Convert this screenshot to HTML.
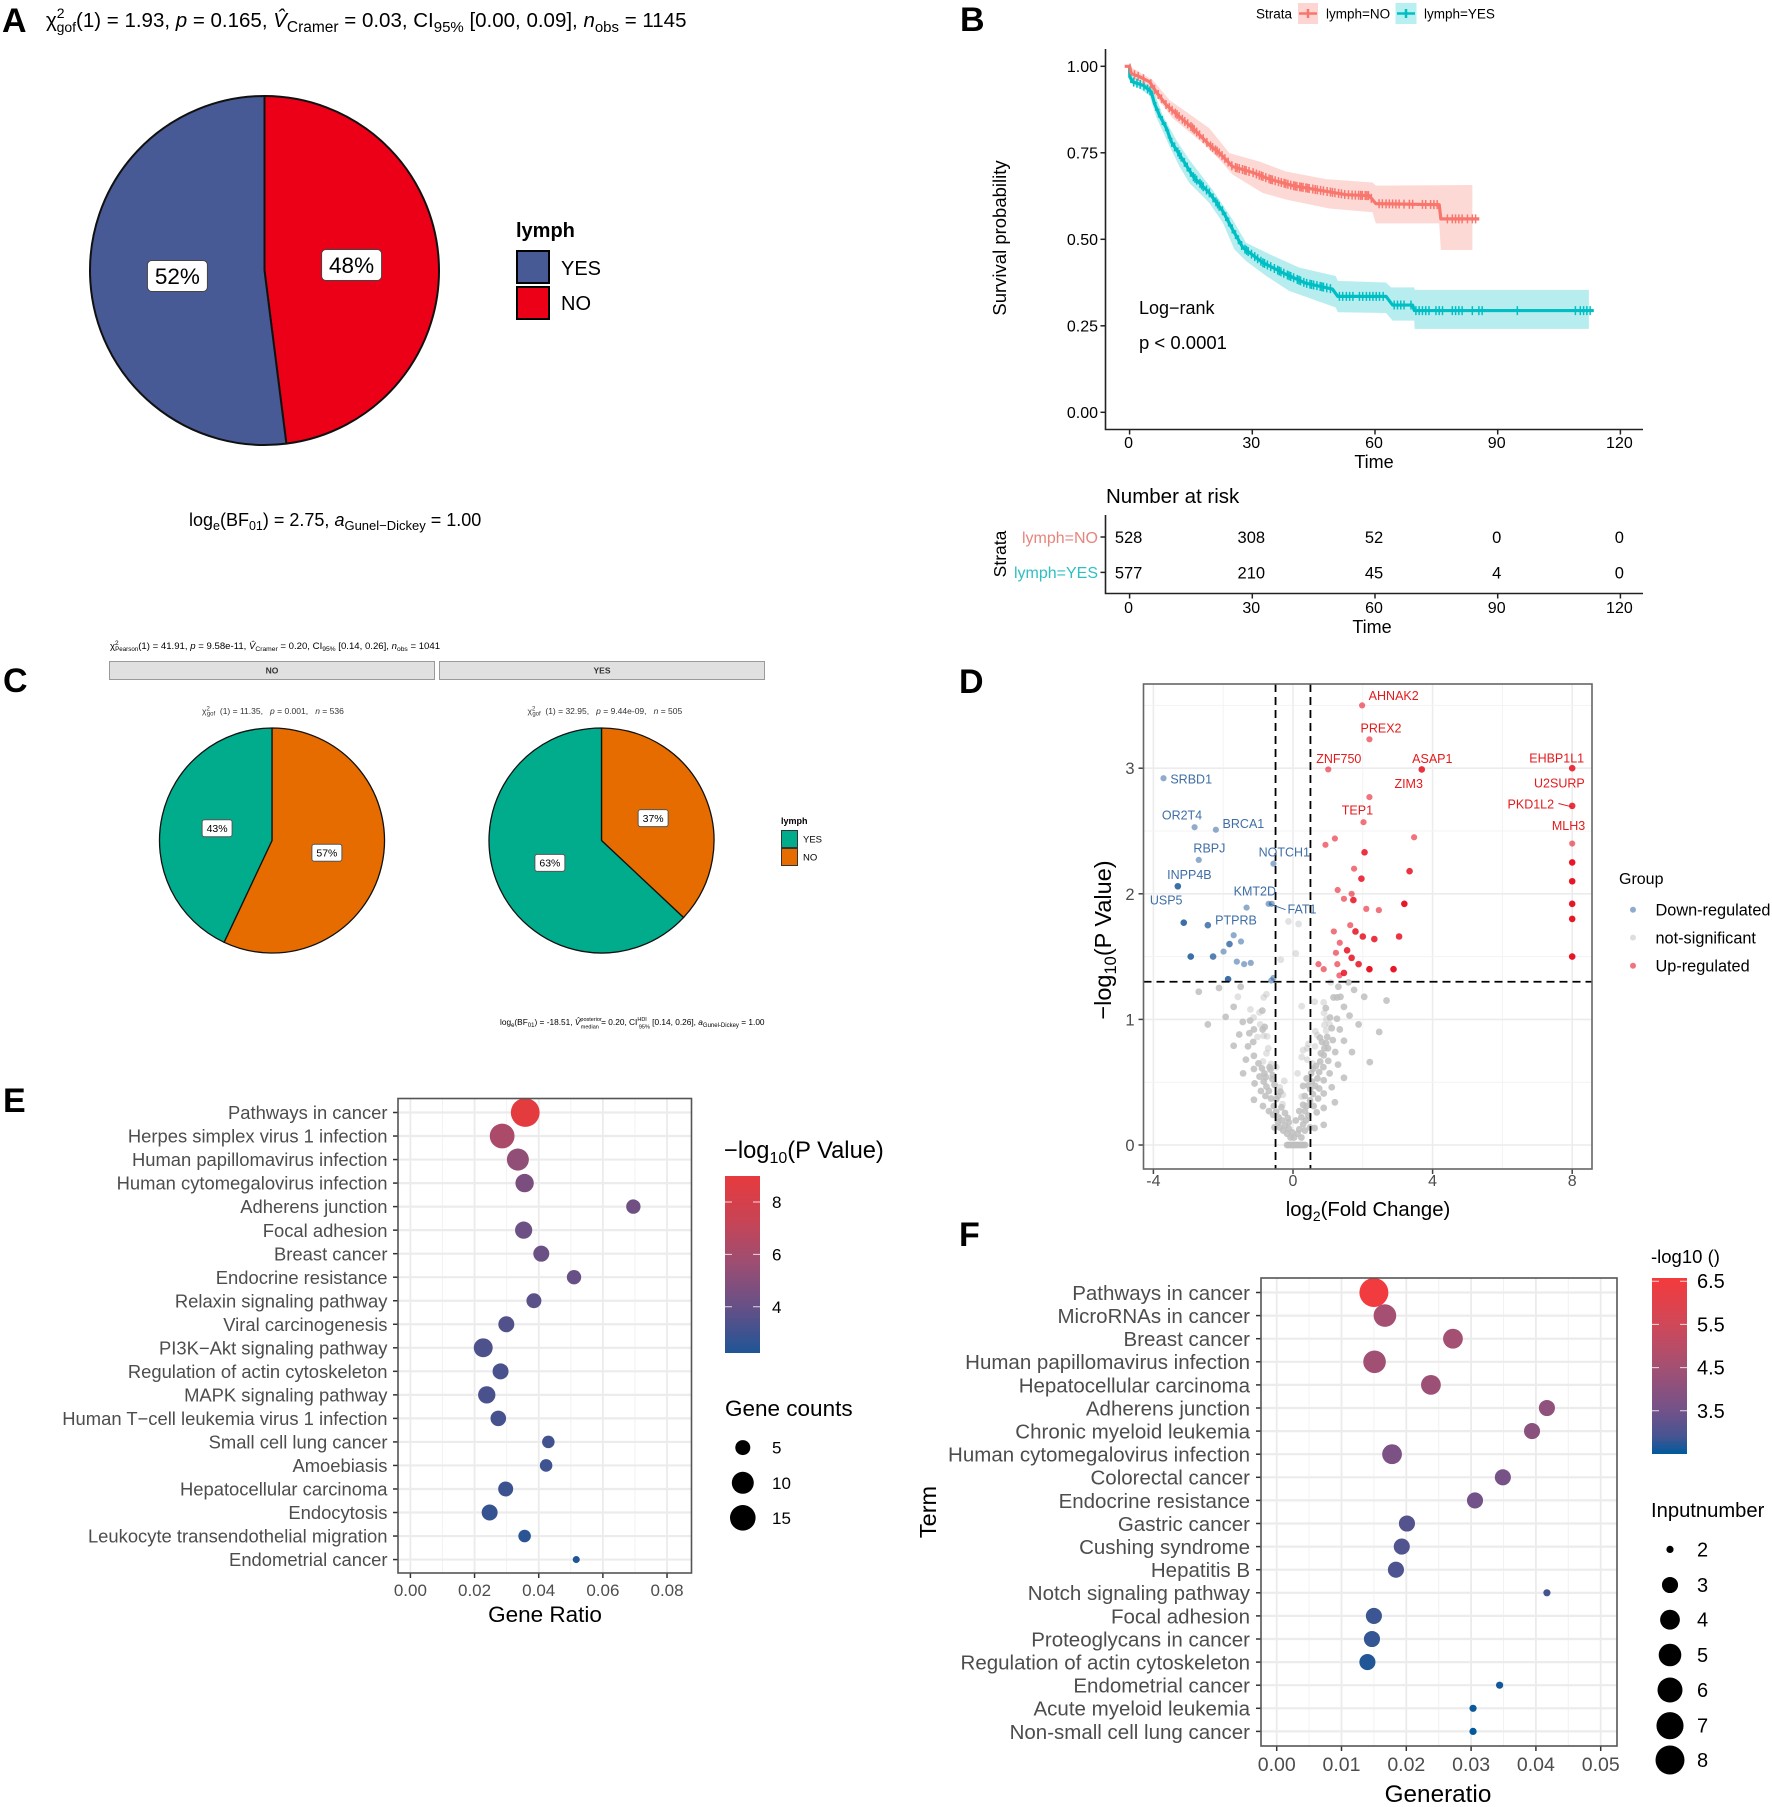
<!DOCTYPE html>
<html lang="en"><head><meta charset="utf-8"><title>Multi-panel lymph figure</title>
<style>
html,body{margin:0;padding:0;background:#fff}
svg{display:block;font-family:"Liberation Sans",sans-serif}
text{fill:#000}
.g3 text,text.g3{fill:#4d4d4d}
</style></head>
<body>
<svg id="fig" xmlns="http://www.w3.org/2000/svg" width="1772" height="1807" viewBox="0 0 1772 1807">
<defs>
<linearGradient id="gradE" x1="0" y1="1" x2="0" y2="0"><stop offset="0" stop-color="rgb(31,85,150)"/><stop offset=".25" stop-color="rgb(100,80,135)"/><stop offset=".5" stop-color="rgb(155,78,115)"/><stop offset=".75" stop-color="rgb(200,68,85)"/><stop offset="1" stop-color="rgb(230,58,62)"/></linearGradient>
<linearGradient id="gradF" x1="0" y1="1" x2="0" y2="0"><stop offset="0" stop-color="rgb(0,90,156)"/><stop offset=".1" stop-color="rgb(70,84,145)"/><stop offset=".25" stop-color="rgb(115,82,137)"/><stop offset=".49" stop-color="rgb(163,80,115)"/><stop offset=".74" stop-color="rgb(208,72,88)"/><stop offset="1" stop-color="rgb(244,58,60)"/></linearGradient>
</defs>
<rect width="1772" height="1807" fill="#fff"/>

<g font-weight="bold" font-size="34">
<text x="2" y="32">A</text>
<text x="960" y="31">B</text>
<text x="3" y="692">C</text>
<text x="959" y="693">D</text>
<text x="3" y="1112">E</text>
<text x="959" y="1246">F</text>
</g>

<!-- Panel A -->
<g id="panelA">
<text x="46" y="27" font-size="20.500" style="white-space:pre">χ<tspan dy="-9" font-size="14">2</tspan><tspan dy="14" dx="-8" font-size="14">gof</tspan><tspan dy="-5">(1) = 1.93, </tspan><tspan font-style="italic">p</tspan> = 0.165, <tspan font-style="italic">V̂</tspan><tspan dy="5" font-size="15.500">Cramer</tspan><tspan dy="-5"> = 0.03, CI</tspan><tspan dy="5" font-size="15">95%</tspan><tspan dy="-5"> [0.00, 0.09], </tspan><tspan font-style="italic">n</tspan><tspan dy="5" font-size="15">obs</tspan><tspan dy="-5"> = 1145</tspan></text>
<text x="189" y="526" font-size="18" style="white-space:pre">log<tspan dy="4" font-size="12.500">e</tspan><tspan dy="-4">(BF</tspan><tspan dy="4" font-size="12.500">01</tspan><tspan dy="-4">) = 2.75, </tspan><tspan font-style="italic">a</tspan><tspan dy="4" font-size="13">Gunel−Dickey</tspan><tspan dy="-4"> = 1.00</tspan></text>
<text x="516" y="237" font-size="20" font-weight="bold">lymph</text>
<rect x="517" y="251" width="32" height="32" fill="#485a95" stroke="#000" stroke-width="2"/>
<rect x="517" y="287" width="32" height="32" fill="#ec0018" stroke="#000" stroke-width="2"/>
<text x="561" y="275" font-size="20">YES</text>
<text x="561" y="310" font-size="20">NO</text>
</g>

<!-- Panel B -->
<g id="panelB">
<text x="1256" y="18.500" font-size="13.500">Strata</text>
<rect x="1298" y="3" width="20" height="21" fill="#fdd6d3"/>
<path d="M1299 13.500H1317M1308 9V18" stroke="#F8766D" stroke-width="2.500" fill="none"/>
<text x="1326" y="18.500" font-size="13.500">lymph=NO</text>
<rect x="1395.500" y="3" width="21" height="21" fill="#b8eff0"/>
<path d="M1397 13.500H1415M1406 9V18" stroke="#00BFC4" stroke-width="2.500" fill="none"/>
<text x="1424" y="18.500" font-size="13.500">lymph=YES</text>
<text transform="translate(1006,238) rotate(-90)" text-anchor="middle" font-size="18.500">Survival probability</text>
<text x="1374" y="468" text-anchor="middle" font-size="18">Time</text>
<text x="1139" y="314" font-size="18">Log−rank</text>
<text x="1139" y="349" font-size="18.500">p &lt; 0.0001</text>
<text x="1106" y="503" font-size="20.500">Number at risk</text>
<text transform="translate(1006,554) rotate(-90)" text-anchor="middle" font-size="17.500">Strata</text>
<text x="1098" y="543" text-anchor="end" font-size="16" style="fill:#e6857c">lymph=NO</text>
<text x="1098" y="578" text-anchor="end" font-size="16" style="fill:#2fbfc3">lymph=YES</text>
<text x="1372" y="633" text-anchor="middle" font-size="18">Time</text>
</g>

<!-- Panel C -->
<g id="panelC">
<text x="110" y="649" font-size="9.600" style="white-space:pre">χ<tspan dy="-4" font-size="6.500">2</tspan><tspan dy="6" dx="-3.500" font-size="6.200">Pearson</tspan><tspan dy="-2">(1) = 41.91, </tspan><tspan font-style="italic">p</tspan> = 9.58e-11, <tspan font-style="italic">V̂</tspan><tspan dy="2" font-size="6.700">Cramer</tspan><tspan dy="-2"> = 0.20, CI</tspan><tspan dy="2" font-size="6.700">95%</tspan><tspan dy="-2"> [0.14, 0.26], </tspan><tspan font-style="italic">n</tspan><tspan dy="2" font-size="6.700">obs</tspan><tspan dy="-2"> = 1041</tspan></text>
<rect x="109.500" y="661.500" width="325" height="18" fill="#e0e0e0" stroke="#9a9a9a" stroke-width="1"/>
<rect x="439.500" y="661.500" width="325" height="18" fill="#e0e0e0" stroke="#9a9a9a" stroke-width="1"/>
<text x="272" y="673.500" text-anchor="middle" font-size="8.500" font-weight="bold" style="fill:#333">NO</text>
<text x="602" y="673.500" text-anchor="middle" font-size="8.500" font-weight="bold" style="fill:#333">YES</text>
<text x="202" y="714" font-size="8.500" style="fill:#333;white-space:pre">χ<tspan dy="-3.500" font-size="6">2</tspan><tspan dy="5" dx="-3" font-size="6">gof</tspan><tspan dy="-1.500">  (1) = 11.35,   </tspan><tspan font-style="italic">p</tspan> = 0.001,   <tspan font-style="italic">n</tspan> = 536</text>
<text x="527.500" y="714" font-size="8.500" style="fill:#333;white-space:pre">χ<tspan dy="-3.500" font-size="6">2</tspan><tspan dy="5" dx="-3" font-size="6">gof</tspan><tspan dy="-1.500">  (1) = 32.95,   </tspan><tspan font-style="italic">p</tspan> = 9.44e-09,   <tspan font-style="italic">n</tspan> = 505</text>
<text x="500" y="1025" font-size="8.300" style="white-space:pre">log<tspan dy="2" font-size="6">e</tspan><tspan dy="-2">(BF</tspan><tspan dy="2" font-size="6">01</tspan><tspan dy="-2">) = -18.51, </tspan><tspan font-style="italic">V̂</tspan><tspan dy="-4" font-size="5.500">posterior</tspan><tspan dy="7.500" dx="-21" font-size="5.500">median</tspan><tspan dy="-3.500"> = 0.20, CI</tspan><tspan dy="-4" font-size="5.500">HDI</tspan><tspan dy="7.500" dx="-8" font-size="5.500">95%</tspan><tspan dy="-3.500"> [0.14, 0.26], </tspan><tspan font-style="italic">a</tspan><tspan dy="2" font-size="6">Gunel-Dickey</tspan><tspan dy="-2"> = 1.00</tspan></text>
<text x="781" y="824" font-size="9" font-weight="bold">lymph</text>
<rect x="781.500" y="830.500" width="16" height="17" fill="#00ac8c" stroke="#333" stroke-width="1"/>
<rect x="781.500" y="848.500" width="16" height="17" fill="#e66c00" stroke="#333" stroke-width="1"/>
<text x="803" y="842.500" font-size="9.500">YES</text>
<text x="803" y="860.500" font-size="9.500">NO</text>
</g>

<!-- Panel D -->
<g id="panelD">
<g id="panelDGrid"></g>
<g id="panelDPoints"></g>
<g id="panelDLines"></g>
<g font-size="12.500" text-anchor="middle">
<text x="1393.700" y="700" style="fill:#e41a1c">AHNAK2</text>
<text x="1381" y="732.500" style="fill:#e41a1c">PREX2</text>
<text x="1338.800" y="763" style="fill:#e41a1c">ZNF750</text>
<text x="1432.300" y="763" style="fill:#e41a1c">ASAP1</text>
<text x="1556.700" y="762.500" style="fill:#e41a1c">EHBP1L1</text>
<text x="1559.400" y="787.500" style="fill:#e41a1c">U2SURP</text>
<text x="1408.700" y="788" style="fill:#e41a1c">ZIM3</text>
<text x="1530.800" y="808.500" style="fill:#e41a1c">PKD1L2</text>
<text x="1357.400" y="814.500" style="fill:#e41a1c">TEP1</text>
<text x="1568.500" y="830" style="fill:#e41a1c">MLH3</text>
</g>
<g font-size="12.500" text-anchor="middle">
<text x="1191.200" y="783.500" style="fill:#3f6ea6">SRBD1</text>
<text x="1182" y="819.500" style="fill:#3f6ea6">OR2T4</text>
<text x="1243.400" y="827.800" style="fill:#3f6ea6">BRCA1</text>
<text x="1209.400" y="852.700" style="fill:#3f6ea6">RBPJ</text>
<text x="1284.300" y="856.400" style="fill:#3f6ea6">NOTCH1</text>
<text x="1189.400" y="879" style="fill:#3f6ea6">INPP4B</text>
<text x="1254.800" y="895.400" style="fill:#3f6ea6">KMT2D</text>
<text x="1166.200" y="904.400" style="fill:#3f6ea6">USP5</text>
<text x="1302" y="913.400" style="fill:#3f6ea6">FAT1</text>
<text x="1236" y="924.700" style="fill:#3f6ea6">PTPRB</text>
</g>
<path d="M1558.500 803.500L1571.700 806.800" stroke="#e41a1c" stroke-width="1" fill="none"/>
<path d="M1268.800 903.700L1285.600 909.700" stroke="#3f6ea6" stroke-width="1" fill="none"/>
<text x="1368" y="1216" text-anchor="middle" font-size="20.300">log<tspan dy="5" font-size="14">2</tspan><tspan dy="-5">(Fold Change)</tspan></text>
<text transform="translate(1111,940) rotate(-90)" text-anchor="middle" font-size="23.500">−log<tspan dy="5" font-size="16.500">10</tspan><tspan dy="-5">(P Value)</tspan></text>
<text x="1619" y="884" font-size="16">Group</text>
<circle cx="1633" cy="909.700" r="3" fill="#1f5a99" fill-opacity=".5"/>
<circle cx="1633" cy="937.600" r="3" fill="#bebebe" fill-opacity=".5"/>
<circle cx="1633" cy="965.800" r="3" fill="#e60012" fill-opacity=".55"/>
<text x="1655.500" y="915.500" font-size="16.300">Down-regulated</text>
<text x="1655.500" y="943.500" font-size="16.300">not-significant</text>
<text x="1655.500" y="971.500" font-size="16.300">Up-regulated</text>
</g>

<!-- Panel E -->
<g id="panelE">
<text x="545" y="1622" text-anchor="middle" font-size="22.500">Gene Ratio</text>
<text x="724" y="1158" font-size="23.700">−log<tspan dy="5" font-size="16">10</tspan><tspan dy="-5">(P Value)</tspan></text>
<rect x="725" y="1176" width="35" height="177" fill="url(#gradE)"/>
<text x="725" y="1416" font-size="22.500">Gene counts</text>
</g>

<!-- Panel F -->
<g id="panelF">
<text x="1438" y="1802" text-anchor="middle" font-size="24.300">Generatio</text>
<text transform="translate(936,1512) rotate(-90)" text-anchor="middle" font-size="23.500">Term</text>
<text x="1651" y="1263" font-size="18.500">-log10 ()</text>
<rect x="1652" y="1278" width="35" height="176" fill="url(#gradF)"/>
<text x="1651" y="1517" font-size="20.200">Inputnumber</text>
</g>
</svg>

<script>
/* ---------- Panel A / C pie data ---------- */
const pieACategories = ['NO','YES'];
const pieAValues = [48,52];
const pieCNoCategories = ['NO','YES'];
const pieCNoValues = [57,43];
const pieCYesCategories = ['NO','YES'];
const pieCYesValues = [37,63];

/* ---------- Panel B survival data (time, probability) ---------- */
const survivalXTicks = [0,30,60,90,120];
const survivalYTicks = [0,0.25,0.5,0.75,1];
const survivalNo = [[-1.2,1],[0,1],[0.4,.979],[2.4,.97],[4.9,.955],[6.5,.926],[9,.888],[12.2,.854],[15.5,.821],[19.5,.773],[22,.749],[25.2,.71],[30.1,.693],[34.2,.674],[39.9,.655],[46.4,.642],[52.9,.629],[58.6,.626],[60.2,.603],[75.7,.6],[76.1,.559],[85.5,.559]];
const survivalNoUpper = [[0,1],[5.7,.96],[9.8,.902],[13.8,.869],[19.5,.821],[24.4,.749],[31.7,.725],[38.2,.696],[48,.674],[59.4,.664],[60.2,.655],[83.8,.657]];
const survivalNoLower = [[0,.99],[6.5,.912],[10.6,.849],[17.9,.778],[22,.73],[25.2,.687],[32.5,.634],[38.2,.615],[48.8,.589],[59.4,.578],[60.2,.546],[75.7,.546],[76.1,.469],[83.8,.469]];
const survivalYes = [[0,1],[0.05,.969],[0.8,.955],[3.3,.945],[5.3,.926],[6.1,.892],[7.3,.859],[9,.821],[10.2,.782],[13,.73],[15.5,.682],[19.5,.634],[22.8,.581],[25.2,.528],[27.7,.476],[32.5,.433],[38.2,.399],[43.1,.373],[49.6,.356],[50.9,.335],[62.7,.335],[64.3,.31],[69.2,.31],[69.6,.294],[113.5,.294]];
const survivalYesUpper = [[0,.98],[5.7,.936],[8.1,.859],[11.4,.787],[14.6,.73],[20.3,.643],[25.2,.557],[28.5,.49],[34.2,.457],[41.5,.418],[50.4,.394],[50.9,.38],[62.7,.375],[63.9,.361],[69.6,.361],[69.7,.354],[112.3,.354]];
const survivalYesLower = [[0,.955],[4.9,.916],[6.5,.854],[9.8,.768],[12.2,.71],[14.6,.663],[19.5,.605],[22.8,.548],[25.6,.471],[28.5,.437],[33.4,.394],[39,.351],[45.6,.323],[50.4,.303],[50.9,.289],[62.7,.287],[64.3,.265],[69.6,.265],[69.7,.241],[112.3,.241]];
const censorNo = [0.1,1.2,2.1,3.4,5.2,6.1,7,7.8,8.9,9.7,10.4,11.2,11.6,12.1,12.9,13.5,14.2,15,15.4,15.8,16.4,17.1,18,18.9,19.8,20.3,21,21.4,21.9,22.6,23.3,24.1,25,25.9,26.3,26.8,27.6,28.1,28.5,29.2,30.2,31,31.7,32.2,32.6,33.3,34.1,34.5,34.9,35.6,36.4,37.1,37.8,38.2,38.7,39.4,40.1,40.5,40.9,41.6,42,42.4,43.1,43.5,43.9,44.8,45.4,45.9,46.7,47.4,48.3,49.1,49.6,50.2,51.1,51.8,52.6,53.5,54.4,55.2,56,56.5,56.9,57.6,58,58.4,59.1,61,61.8,62.7,63.5,64.3,65.1,65.9,67.1,68.4,69.2,71.6,72.4,73.6,74.4,75.2,77.7,78.9,79.7,80.5,81.3,82.6,83.8,84.6];
const censorYes = [0.3,1,1.8,2.6,3.5,4.4,5,6.4,7.1,8,8.8,9.5,10.3,11,11.8,12.2,12.6,13.4,14.1,14.9,15.6,16,16.4,17.2,17.6,18,18.8,19.5,20.4,21.1,21.5,21.9,22.7,23.5,24.2,25.1,25.9,26.6,27.4,28.2,28.6,29,29.8,30.6,31.3,32.1,32.6,33,33.7,34.5,35.4,36.2,36.6,37,37.7,38.6,39,39.4,40.1,41,41.4,41.8,42.6,43.3,44.1,44.5,45,45.8,46.6,47,47.4,48.2,49.1,51.3,52.1,53,53.8,54.6,56.2,57,57.9,58.7,59.5,60.3,61.1,62,64.7,65.5,66.3,67.1,68.8,70,70.8,71.6,72.4,73.2,74.9,75.7,76.5,78.9,79.7,80.5,81.3,83.8,85.4,86.2,94.8,109,110.2,111,111.8,112.6];
const riskTimes = [0,30,60,90,120];
const riskNo = [528,308,52,0,0];
const riskYes = [577,210,45,4,0];

/* ---------- Panel D volcano data ([log2FC, -log10P, overlapping genes]) ---------- */
const volcanoXTicks = [-4,0,4,8];
const volcanoYTicks = [0,1,2,3];
const volcanoUp = [[1.98,3.5,1],[2.19,3.23,1],[1.01,2.99,1],[3.69,2.99,2],[8,3,2],[8,2.7,2],[2.19,2.77,1],[2.02,2.57,1],[1.2,2.44,1],[.93,2.39,1],[3.47,2.45,1],[8,2.4,1],[2.05,2.33,2],[8,2.25,3],[1.75,2.2,1],[3.34,2.18,2],[1.96,2.12,2],[8,2.1,3],[1.28,2.03,1],[1.68,2,1],[1.46,1.96,1],[1.73,1.95,2],[3.19,1.92,3],[8,1.92,3],[2.1,1.88,1],[2.46,1.87,1],[8,1.8,3],[1.64,1.75,1],[1.17,1.7,1],[1.79,1.7,2],[2,1.66,2],[2.33,1.64,2],[3.04,1.66,2],[1.34,1.61,1],[1.55,1.55,2],[1.23,1.53,1],[1.68,1.49,2],[8,1.5,3],[.73,1.44,1],[.88,1.4,1],[1.27,1.44,1],[1.88,1.44,2],[2.19,1.4,3],[2.88,1.4,3],[1.46,1.37,2],[1.33,1.35,1]];
const volcanoDown = [[-3.71,2.92,1],[-2.82,2.53,1],[-2.21,2.51,1],[-2.7,2.27,1],[-.56,2.24,1],[-3.3,2.06,3],[-.7,1.92,1],[-.61,1.92,1],[-1.33,1.89,1],[-3.13,1.77,3],[-2.44,1.75,2],[-1.7,1.67,1],[-1.49,1.62,1],[-1.82,1.6,2],[-1.99,1.54,1],[-2.93,1.5,3],[-2.29,1.5,2],[-1.61,1.46,1],[-1.4,1.44,1],[-1.21,1.45,1],[-1.86,1.32,3],[-.56,1.33,1],[-.62,1.31,1]];
const volcanoNsSingle = [[-.13,1.78],[.16,1.76],[-.35,1.475],[.08,1.525],[-1.58,1.18],[-1.22,1.08],[-.84,1.175],[-.76,1.2],[-.96,1.055],[-1.13,1.015],[-.94,.96],[-.84,.87],[-.74,.865],[-1.02,.86],[-.71,.77],[-.76,.73],[-.86,.665],[-.63,.645],[-.48,.62],[-.25,.51],[-.38,.46],[-.29,.4],[-.3,.325],[.13,.57],[.25,1.105],[.62,1.14],[.88,1.135],[.89,1.05],[.95,1],[1.08,1.295],[1.05,.96],[.9,.955],[.95,.91],[.64,.905],[.7,.875],[.44,.805],[.63,.785],[.29,.755],[.41,.77],[.25,.7],[.41,.68],[.55,.65],[.25,.385]];
const volcanoNsRepeat = [[-2.7,1.22],[-2.12,1.25],[-1.5,1.26],[-1.7,1.1],[-.88,1.07],[-1.93,1.02],[-2.44,.96],[-1.44,.98],[-1.23,.99],[-1.12,.92],[-1.25,.89],[-1.54,.88],[-.87,.92],[-.81,.94],[-1.14,.82],[-1.7,.79],[-1.29,.785],[-1.12,.71],[-1.35,.68],[-.99,.65],[-.67,.62],[-1.12,.605],[-.89,.61],[-.645,.6],[-1.43,.57],[-.82,.57],[-.58,.555],[-.96,.545],[-.78,.54],[-.59,.525],[-.84,.505],[-1.1,.49],[-.76,.465],[-.53,.48],[-.69,.43],[-.92,.43],[-.36,.425],[-.79,.39],[-.43,.39],[-.63,.37],[-1.12,.36],[-.48,.365],[-.86,.31],[-.55,.31],[-.33,.3],[-.69,.27],[-.48,.265],[-.23,.255],[-.57,.24],[-.41,.22],[-.15,.215],[-.31,.195],[-.43,.18],[-.12,.18],[-.53,.14],[-.38,.14],[-.23,.155],[-.28,.115],[-.12,.13],[-.17,.09],[-.02,.1],[-.07,.06],[.94,1.09],[1.06,1.015],[1.26,1.005],[1.16,1.175],[1.26,1.175],[1.36,1.18],[1.3,1.26],[1.59,1.295],[1.75,1.235],[2.04,1.18],[2.68,1.15],[1.46,1.1],[1.62,1.03],[1.88,.96],[2.47,.9],[1.34,.92],[1.11,.93],[.98,.86],[.77,.855],[1.14,.835],[1.46,.83],[.95,.81],[.83,.82],[.9,.77],[1,.77],[.8,.73],[.88,.715],[1.21,.74],[1.69,.74],[.78,.665],[1.01,.67],[2.2,.66],[1.29,.64],[.66,.63],[.87,.62],[.57,.605],[.75,.58],[1.05,.57],[.52,.57],[1.46,.535],[.39,.53],[.7,.53],[.88,.515],[.54,.505],[.29,.47],[.64,.47],[.44,.475],[1.11,.46],[.49,.445],[.75,.45],[.88,.41],[.34,.39],[.57,.405],[.72,.37],[.49,.355],[1.2,.34],[.88,.295],[.29,.32],[.39,.31],[.59,.31],[.18,.27],[.34,.27],[.68,.26],[.44,.235],[.24,.22],[.37,.195],[.08,.195],[.88,.16],[.29,.165],[.49,.14],[.62,.135],[.18,.125],[.34,.115],[.13,.09],[.24,.06],[.03,.06],[-.17,0],[-.13,0],[-.09,0],[-.05,0],[-.01,0],[.03,0],[.07,0],[.11,0],[.15,0],[.19,0],[.23,0],[.27,0],[.31,0],[.35,0]];

/* ---------- Panel E dot-plot data ---------- */
const termsE = ['Pathways in cancer','Herpes simplex virus 1 infection','Human papillomavirus infection','Human cytomegalovirus infection','Adherens junction','Focal adhesion','Breast cancer','Endocrine resistance','Relaxin signaling pathway','Viral carcinogenesis','PI3K−Akt signaling pathway','Regulation of actin cytoskeleton','MAPK signaling pathway','Human T−cell leukemia virus 1 infection','Small cell lung cancer','Amoebiasis','Hepatocellular carcinoma','Endocytosis','Leukocyte transendothelial migration','Endometrial cancer'];
const ratioE = [.0358,.0286,.0335,.0356,.0695,.0353,.0408,.051,.0385,.0299,.0227,.0281,.0238,.0274,.043,.0423,.0297,.0247,.0356,.0517];
const countE = [18.5,13.7,10.8,7.5,4.6,6.6,5.7,4.6,5,5.7,8,5.7,6.7,5.4,3.5,3.5,5,5.7,3.5,1.1];
const logpE = [8.9,6.2,5.3,4.6,4.3,4.2,4.1,4,3.7,3.5,3.4,3.3,3.3,3.2,3.1,3,2.95,2.8,2.5,2.3];
const xTicksE = [0,.02,.04,.06,.08];
const xMinorE = [.01,.03,.05,.07];
const colorTicksE = [8,6,4];
const sizeTicksE = [5,10,15];

/* ---------- Panel F dot-plot data ---------- */
const termsF = ['Pathways in cancer','MicroRNAs in cancer','Breast cancer','Human papillomavirus infection','Hepatocellular carcinoma','Adherens junction','Chronic myeloid leukemia','Human cytomegalovirus infection','Colorectal cancer','Endocrine resistance','Gastric cancer','Cushing syndrome','Hepatitis B','Notch signaling pathway','Focal adhesion','Proteoglycans in cancer','Regulation of actin cytoskeleton','Endometrial cancer','Acute myeloid leukemia','Non-small cell lung cancer'];
const ratioF = [.015,.0167,.0272,.0151,.0238,.0417,.0394,.0178,.0349,.0306,.0201,.0193,.0184,.0417,.015,.0147,.014,.0344,.0303,.0303];
const inputF = [8,5,4,5,4,3,3,4,3,3,3,3,3,2,3,3,3,2,2,2];
const logpF = [6.5,4.55,4.5,4.45,4.35,4.1,4,3.7,3.6,3.5,3.1,3.05,3,2.9,2.85,2.8,2.7,2.6,2.55,2.5];
const xTicksF = [0,.01,.02,.03,.04,.05];
const xMinorF = [.005,.015,.025,.035,.045];
const colorTicksF = [6.5,5.5,4.5,3.5];
const sizeTicksF = [2,3,4,5,6,7,8];

/* ---------- helpers ---------- */
const NS = 'http://www.w3.org/2000/svg';
function mk(tag, parent, attrs, txt) {
  const el = document.createElementNS(NS, tag);
  for (const k in attrs) el.setAttribute(k, attrs[k]);
  if (txt !== undefined) el.textContent = txt;
  parent.appendChild(el);
  return el;
}
function slug(s) { return String(s).toLowerCase().replace(/[^a-z0-9]+/g, '-').replace(/^-|-$/g, ''); }
function ramp(stops, t) {
  t = Math.max(0, Math.min(1, t));
  for (let i = 0; i < stops.length - 1; i++) {
    const a = stops[i], b = stops[i + 1];
    if (t <= b[0]) {
      const u = (t - a[0]) / (b[0] - a[0]);
      return 'rgb(' + [1, 2, 3].map(k => Math.round(a[k] + (b[k] - a[k]) * u)).join(',') + ')';
    }
  }
  const z = stops[stops.length - 1];
  return 'rgb(' + z[1] + ',' + z[2] + ',' + z[3] + ')';
}
const rampStopsE = [[0,31,85,150],[.25,100,80,135],[.5,155,78,115],[.75,200,68,85],[1,230,58,62]];
const rampStopsF = [[0,0,90,156],[.1,70,84,145],[.25,115,82,137],[.49,163,80,115],[.74,208,72,88],[1,244,58,60]];
function fmt(v, d) { return Number(v).toFixed(d); }

/* ---------- pies ---------- */
function drawPie(parent, key, cx, cy, r, cats, vals, colors, boxW, boxH, fs, labelStroke) {
  const total = vals.reduce((a, b) => a + b, 0);
  let a0 = 0;
  const labels = [];
  vals.forEach((v, i) => {
    const a1 = a0 + v / total * Math.PI * 2;
    const large = a1 - a0 > Math.PI ? 1 : 0;
    const d = 'M' + cx + ' ' + cy + 'L' + (cx + r * Math.sin(a0)) + ' ' + (cy - r * Math.cos(a0)) +
      'A' + r + ' ' + r + ' 0 ' + large + ' 1 ' + (cx + r * Math.sin(a1)) + ' ' + (cy - r * Math.cos(a1)) + 'Z';
    const slice = mk('path', parent, { d: d, fill: colors[i], stroke: '#111', 'stroke-width': r > 150 ? 2 : 1.3, 'stroke-linejoin': 'round' });
    
    
    labels.push({ mid: (a0 + a1) / 2, v: v });
    a0 = a1;
  });
  labels.forEach((l, i) => {
    const x = cx + r * .5 * Math.sin(l.mid), y = cy - r * .5 * Math.cos(l.mid);
    const box = mk('rect', parent, { x: x - boxW / 2, y: y - boxH / 2, width: boxW, height: boxH, rx: boxH * .14, fill: '#fff', stroke: labelStroke, 'stroke-width': 1 });
    
    
    const t = mk('text', parent, { x: x, y: y + fs * .36, 'text-anchor': 'middle', 'font-size': fs }, Math.round(l.v / total * 100) + '%');
    
    
  });
}
const pA = document.getElementById('panelA');
drawPie(pA, 'pie-a', 264.5, 270.5, 174.5, pieACategories, pieAValues, ['#ec0018', '#485a95'], 60, 31, 22.5, '#444');
const pC = document.getElementById('panelC');
drawPie(pC, 'pie-c-no', 272, 840.5, 112.5, pieCNoCategories, pieCNoValues, ['#e66c00', '#00ac8c'], 30, 17, 10.5, '#555');
drawPie(pC, 'pie-c-yes', 601.5, 840.5, 112.5, pieCYesCategories, pieCYesValues, ['#e66c00', '#00ac8c'], 30, 17, 10.5, '#555');

/* ---------- survival ---------- */
const pB = document.getElementById('panelB');
const sx = t => 1129.6 + 4.09 * t;
const sy = s => 412.3 - 346 * s;
function survAt(curve, t) {
  let last = curve[0][1];
  for (let i = 0; i < curve.length - 1; i++) {
    const a = curve[i], b = curve[i + 1];
    if (t >= a[0] && t <= b[0]) return a[1] + (b[1] - a[1]) * (t - a[0]) / Math.max(b[0] - a[0], 1e-6);
    last = b[1];
  }
  return last;
}
function drawBand(key, upper, lower, color) {
  const band = upper.map(p => sx(p[0]) + ',' + sy(p[1])).concat(lower.slice().reverse().map(p => sx(p[0]) + ',' + sy(p[1]))).join(' ');
  const b = mk('polygon', pB, { points: band, fill: color, 'fill-opacity': .28 });
  
  
}
function drawSurv(key, line, censor, color) {
  const l = mk('path', pB, { d: 'M' + line.map(p => sx(p[0]) + ' ' + sy(p[1])).join('L'), fill: 'none', stroke: color, 'stroke-width': 3.2, 'stroke-linejoin': 'round' });
  
  
  const c = mk('path', pB, { d: censor.map(t => 'M' + sx(t) + ' ' + (sy(survAt(line, t)) - 4.5) + 'v9').join(''), fill: 'none', stroke: color, 'stroke-width': 1.5 });
  
  
}
drawBand('no', survivalNoUpper, survivalNoLower, '#F8766D');
drawBand('yes', survivalYesUpper, survivalYesLower, '#00BFC4');
drawSurv('yes', survivalYes, censorYes, '#00BFC4');
drawSurv('no', survivalNo, censorNo, '#F8766D');

const survAxisY = mk('path', pB, { d: 'M1105.500 49V429.500H1643', fill: 'none', stroke: '#222', 'stroke-width': 1.6 });


survivalYTicks.forEach(v => {
  const tick = mk('line', pB, { x1: 1100.5, x2: 1105.5, y1: sy(v), y2: sy(v), stroke: '#222', 'stroke-width': 1.5 });
  
  
  const lab = mk('text', pB, { x: 1098, y: sy(v) + 5.8, 'text-anchor': 'end', 'font-size': 16 }, fmt(v, 2));
  
  
});
survivalXTicks.forEach(v => {
  const tick = mk('line', pB, { x1: sx(v), x2: sx(v), y1: 429.5, y2: 434.5, stroke: '#222', 'stroke-width': 1.5 });
  
  
  const lab = mk('text', pB, { x: sx(v) - 1, y: 448, 'text-anchor': 'middle', 'font-size': 16 }, String(v));
  
  
});
const riskAxes = mk('path', pB, { d: 'M1105.500 515V593.500H1643', fill: 'none', stroke: '#222', 'stroke-width': 1.6 });


[537, 572.4].forEach(y => {
  const tick = mk('line', pB, { x1: 1100.5, x2: 1105.5, y1: y, y2: y, stroke: '#222', 'stroke-width': 1.5 });
  
  
});
riskTimes.forEach((t, i) => {
  const tick = mk('line', pB, { x1: sx(t), x2: sx(t), y1: 593.5, y2: 598.5, stroke: '#222', 'stroke-width': 1.5 });
  
  
  const lab = mk('text', pB, { x: sx(t) - 1, y: 613, 'text-anchor': 'middle', 'font-size': 16 }, String(t));
  
  
  const n1 = mk('text', pB, { x: sx(t) - 1, y: 543, 'text-anchor': 'middle', 'font-size': 16.5 }, String(riskNo[i]));
  
  
  const n2 = mk('text', pB, { x: sx(t) - 1, y: 578.4, 'text-anchor': 'middle', 'font-size': 16.5 }, String(riskYes[i]));
  
  
});

/* ---------- volcano ---------- */
const vx = v => 1293 + 34.9 * v;
const vy = v => 1145 - 125.6 * v;
const dGrid = document.getElementById('panelDGrid');
const dPts = document.getElementById('panelDPoints');
const dLines = document.getElementById('panelDLines');
const box = { l: 1143.5, r: 1592, t: 684, b: 1169 };
volcanoXTicks.forEach((v, i) => {
  const g = mk('line', dGrid, { x1: vx(v), x2: vx(v), y1: box.t, y2: box.b, stroke: '#ececec', 'stroke-width': 1.6 });
  
  
  if (i < volcanoXTicks.length - 1) {
    const mv = (v + volcanoXTicks[i + 1]) / 2;
    const m = mk('line', dGrid, { x1: vx(mv), x2: vx(mv), y1: box.t, y2: box.b, stroke: '#f3f3f3', 'stroke-width': 1 });
    
    
  }
  const tick = mk('line', dGrid, { x1: vx(v), x2: vx(v), y1: box.b, y2: box.b + 5, stroke: '#444', 'stroke-width': 1.5 });
  
  
  const lab = mk('text', dGrid, { x: vx(v), y: 1186, 'text-anchor': 'middle', 'font-size': 16, style: 'fill:#4d4d4d' }, String(v));
  
  
});
volcanoYTicks.forEach(v => {
  const g = mk('line', dGrid, { x1: box.l, x2: box.r, y1: vy(v), y2: vy(v), stroke: '#ececec', 'stroke-width': 1.6 });
  
  
  const m = mk('line', dGrid, { x1: box.l, x2: box.r, y1: vy(v + .5), y2: vy(v + .5), stroke: '#f3f3f3', 'stroke-width': 1 });
  
  
  const tick = mk('line', dGrid, { x1: box.l - 5, x2: box.l, y1: vy(v), y2: vy(v), stroke: '#444', 'stroke-width': 1.5 });
  
  
  const lab = mk('text', dGrid, { x: box.l - 9, y: vy(v) + 6, 'text-anchor': 'end', 'font-size': 16.5, style: 'fill:#4d4d4d' }, String(v));
  
  
});
volcanoNsSingle.forEach(p => {
  const c = mk('circle', dPts, { cx: vx(p[0]), cy: vy(p[1]), r: 3.4, fill: '#bebebe', 'fill-opacity': .45 });
  
  
});
volcanoNsRepeat.forEach(p => {
  const c = mk('circle', dPts, { cx: vx(p[0]), cy: vy(p[1]), r: 3.4, fill: '#bebebe', 'fill-opacity': .85 });
  
  
});
volcanoDown.forEach(p => {
  const c = mk('circle', dPts, { cx: vx(p[0]), cy: vy(p[1]), r: p[2] > 1 ? 3.3 : 3.1, fill: '#1f5a99', 'fill-opacity': 1 - Math.pow(.5, p[2]) });
  
  
});
volcanoUp.forEach(p => {
  const c = mk('circle', dPts, { cx: vx(p[0]), cy: vy(p[1]), r: p[2] > 1 ? 3.3 : 3.1, fill: '#e60012', 'fill-opacity': 1 - Math.pow(.45, p[2]) });
  
  
});
[-.5, .5].forEach(v => {
  const l = mk('line', dLines, { x1: vx(v), x2: vx(v), y1: box.t, y2: box.b, stroke: '#000', 'stroke-width': 1.8, 'stroke-dasharray': '8 5' });
  
  
});
const hLine = mk('line', dLines, { x1: box.l, x2: box.r, y1: vy(1.3), y2: vy(1.3), stroke: '#000', 'stroke-width': 1.8, 'stroke-dasharray': '8 5' });


const dBorder = mk('rect', dLines, { x: box.l, y: box.t, width: box.r - box.l, height: box.b - box.t, fill: 'none', stroke: '#666', 'stroke-width': 1.6 });



/* ---------- dot plots ---------- */
function drawDotPlot(cfg) {
  const g = cfg.parent;
  const cxs = v => cfg.x0 + cfg.xk * v;
  const rowY = i => cfg.y0 + cfg.dy * i;
  cfg.minor.forEach(v => {
    const m = mk('line', g, { x1: cxs(v), x2: cxs(v), y1: cfg.t, y2: cfg.b, stroke: '#f2f2f2', 'stroke-width': 1 });
    
    
  });
  cfg.ticks.forEach(v => {
    const gl = mk('line', g, { x1: cxs(v), x2: cxs(v), y1: cfg.t, y2: cfg.b, stroke: '#ebebeb', 'stroke-width': 1.8 });
    
    
    const tick = mk('line', g, { x1: cxs(v), x2: cxs(v), y1: cfg.b, y2: cfg.b + 5, stroke: '#333', 'stroke-width': 1.5 });
    
    
    const lab = mk('text', g, { x: cxs(v), y: cfg.tickY, 'text-anchor': 'middle', 'font-size': cfg.tickFs, style: 'fill:#4d4d4d' }, fmt(v, 2));
    
    
  });
  cfg.terms.forEach((term, i) => {
    const gl = mk('line', g, { x1: cfg.l, x2: cfg.r, y1: rowY(i), y2: rowY(i), stroke: '#ececec', 'stroke-width': 2.2 });
    
    
    const tick = mk('line', g, { x1: cfg.l - 5, x2: cfg.l, y1: rowY(i), y2: rowY(i), stroke: '#333', 'stroke-width': 1.5 });
    
    
    const lab = mk('text', g, { x: cfg.labelX, y: rowY(i) + cfg.labelFs * .36, 'text-anchor': 'end', 'font-size': cfg.labelFs, style: 'fill:#4d4d4d' }, term);
    
    
  });
  cfg.terms.forEach((term, i) => {
    const t = (cfg.logp[i] - cfg.cMin) / (cfg.cMax - cfg.cMin);
    const dot = mk('circle', g, { cx: cxs(cfg.ratio[i]), cy: rowY(i), r: cfg.radius(cfg.size[i]), fill: ramp(cfg.stops, t) });
    
    
  });
  const border = mk('rect', g, { x: cfg.l, y: cfg.t, width: cfg.r - cfg.l, height: cfg.b - cfg.t, fill: 'none', stroke: '#555', 'stroke-width': 1.6 });
  
  
}
const radiusE = c => 3.35 * Math.sqrt(c);
const radiusF = n => 3.6 + 10.9 * Math.sqrt((n - 2) / 6);
const pE = document.getElementById('panelE');
const pF = document.getElementById('panelF');
drawDotPlot({ parent: pE, key: 'dot-e', terms: termsE, ratio: ratioE, size: countE, logp: logpE, x0: 410.4, xk: 3208, y0: 1112.5, dy: 23.53, l: 398, r: 691.5, t: 1098.5, b: 1573, labelX: 387.5, labelFs: 18.4, tickY: 1596, tickFs: 17, ticks: xTicksE, minor: xMinorE, radius: radiusE, stops: rampStopsE, cMin: 2.24, cMax: 8.99 });
drawDotPlot({ parent: pF, key: 'dot-f', terms: termsF, ratio: ratioF, size: inputF, logp: logpF, x0: 1276.7, xk: 6480, y0: 1292.5, dy: 23.1, l: 1261, r: 1617, t: 1278, b: 1746, labelX: 1250, labelFs: 20.5, tickY: 1771, tickFs: 19.5, ticks: xTicksF, minor: xMinorF, radius: radiusF, stops: rampStopsF, cMin: 2.5, cMax: 6.57 });

/* colour-bar ticks and size legends */
const cyE = v => 1202 + (8 - v) * 26.2;
colorTicksE.forEach(v => {
  const t1 = mk('path', pE, { d: 'M725 ' + cyE(v) + 'h7M753 ' + cyE(v) + 'h7', stroke: 'rgba(255,255,255,.8)', 'stroke-width': 1 });
  
  
  const lab = mk('text', pE, { x: 772, y: cyE(v) + 6, 'font-size': 17 }, String(v));
  
  
});
sizeTicksE.forEach((v, i) => {
  const y = [1447.6, 1482.8, 1517.8][i];
  const d = mk('circle', pE, { cx: 742.8, cy: y, r: [7.5, 11, 12.8][i], fill: '#000' });
  
  
  const lab = mk('text', pE, { x: 772, y: y + 6, 'font-size': 17 }, String(v));
  
  
});
const cyF = v => 1281.2 + (6.5 - v) * 43.2;
colorTicksF.forEach(v => {
  const t1 = mk('path', pF, { d: 'M1652 ' + cyF(v) + 'h7M1680 ' + cyF(v) + 'h7', stroke: 'rgba(255,255,255,.8)', 'stroke-width': 1 });
  
  
  const lab = mk('text', pF, { x: 1697, y: cyF(v) + 7, 'font-size': 20 }, fmt(v, 1));
  
  
});
sizeTicksF.forEach((v, i) => {
  const y = [1549.4, 1585, 1619.7, 1655, 1690, 1725.7, 1760][i];
  const d = mk('circle', pF, { cx: 1670, cy: y, r: radiusF(v), fill: '#000' });
  
  
  const lab = mk('text', pF, { x: 1697, y: y + 7, 'font-size': 20 }, String(v));
  
  
});
</script>
</body></html>
